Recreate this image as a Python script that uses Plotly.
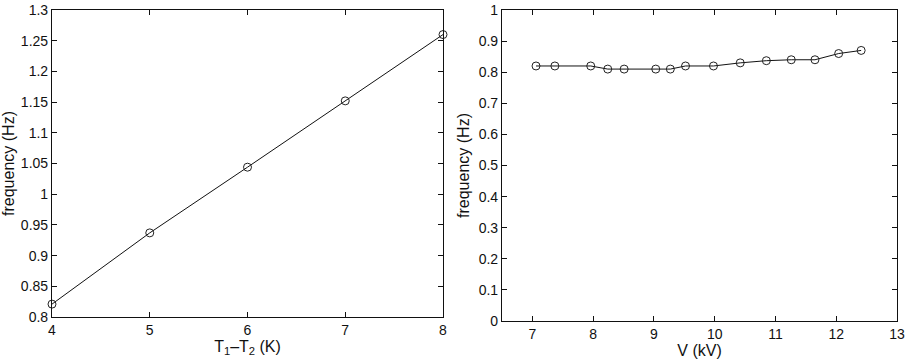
import plotly.graph_objects as go

# Left panel: frequency vs temperature difference
dT = [4, 5, 6, 7, 8]
freq_dT = [0.821, 0.937, 1.044, 1.152, 1.260]

# Right panel: frequency vs voltage
V = [7.06, 7.37, 7.96, 8.24, 8.51, 9.03, 9.27, 9.52, 9.98, 10.42, 10.85, 11.26, 11.65, 12.04, 12.41]
freq_V = [0.82, 0.82, 0.82, 0.81, 0.81, 0.81, 0.81, 0.82, 0.82, 0.83, 0.837, 0.84, 0.84, 0.86, 0.87]

left_xticks = [4, 5, 6, 7, 8]
left_yticks = [0.8, 0.85, 0.9, 0.95, 1.0, 1.05, 1.1, 1.15, 1.2, 1.25, 1.3]
left_yticktext = ["0.8", "0.85", "0.9", "0.95", "1", "1.05", "1.1", "1.15", "1.2", "1.25", "1.3"]
right_xticks = [7, 8, 9, 10, 11, 12, 13]
right_yticks = [0, 0.1, 0.2, 0.3, 0.4, 0.5, 0.6, 0.7, 0.8, 0.9, 1.0]
right_yticktext = ["0", "0.1", "0.2", "0.3", "0.4", "0.5", "0.6", "0.7", "0.8", "0.9", "1"]

fig = go.Figure()

marker = dict(symbol="circle-open", size=8, color="#222222", line=dict(width=1, color="#222222"))
line = dict(color="#111111", width=1)

fig.add_trace(go.Scatter(x=dT, y=freq_dT, mode="lines+markers", marker=marker, line=line,
                         xaxis="x", yaxis="y", showlegend=False, cliponaxis=False))
fig.add_trace(go.Scatter(x=V, y=freq_V, mode="lines+markers", marker=marker, line=line,
                         xaxis="x2", yaxis="y2", showlegend=False, cliponaxis=False))

family = "Liberation Sans, Arial, Helvetica, sans-serif"
tickfont = dict(family=family, size=14, color="#111111")
titlefont = dict(family=family, size=16, color="#111111")
axis_common = dict(showline=True, linecolor="#111111", linewidth=1.2, mirror="allticks",
                   ticks="inside", ticklen=5, tickwidth=1, tickcolor="#111111",
                   showgrid=False, zeroline=False, tickfont=tickfont, automargin=False)

fig.update_layout(
    width=907, height=364,
    margin=dict(l=0, r=0, t=0, b=0),
    paper_bgcolor="white", plot_bgcolor="white",
    font=tickfont,
    xaxis=dict(domain=[52/907, 443/907], range=[4, 8], tickvals=left_xticks,
               anchor="y", title=dict(text="T<sub>1</sub>\u2013T<sub>2</sub> (K)", font=titlefont, standoff=1),
               **axis_common),
    yaxis=dict(domain=[(364-317)/364, (364-10)/364], range=[0.8, 1.3], tickvals=left_yticks,
               ticktext=left_yticktext, anchor="x",
               title=dict(text="frequency (Hz)", font=titlefont, standoff=5), **axis_common),
    xaxis2=dict(domain=[502/907, 897/907], range=[6.5, 13], tickvals=right_xticks,
                anchor="y2", title=dict(text="V (kV)", font=titlefont, standoff=1), **axis_common),
    yaxis2=dict(domain=[(364-321)/364, (364-10)/364], range=[0, 1], tickvals=right_yticks,
                ticktext=right_yticktext, anchor="x2",
                title=dict(text="frequency (Hz)", font=titlefont, standoff=5), **axis_common),
)

fig.write_html("out.html")
